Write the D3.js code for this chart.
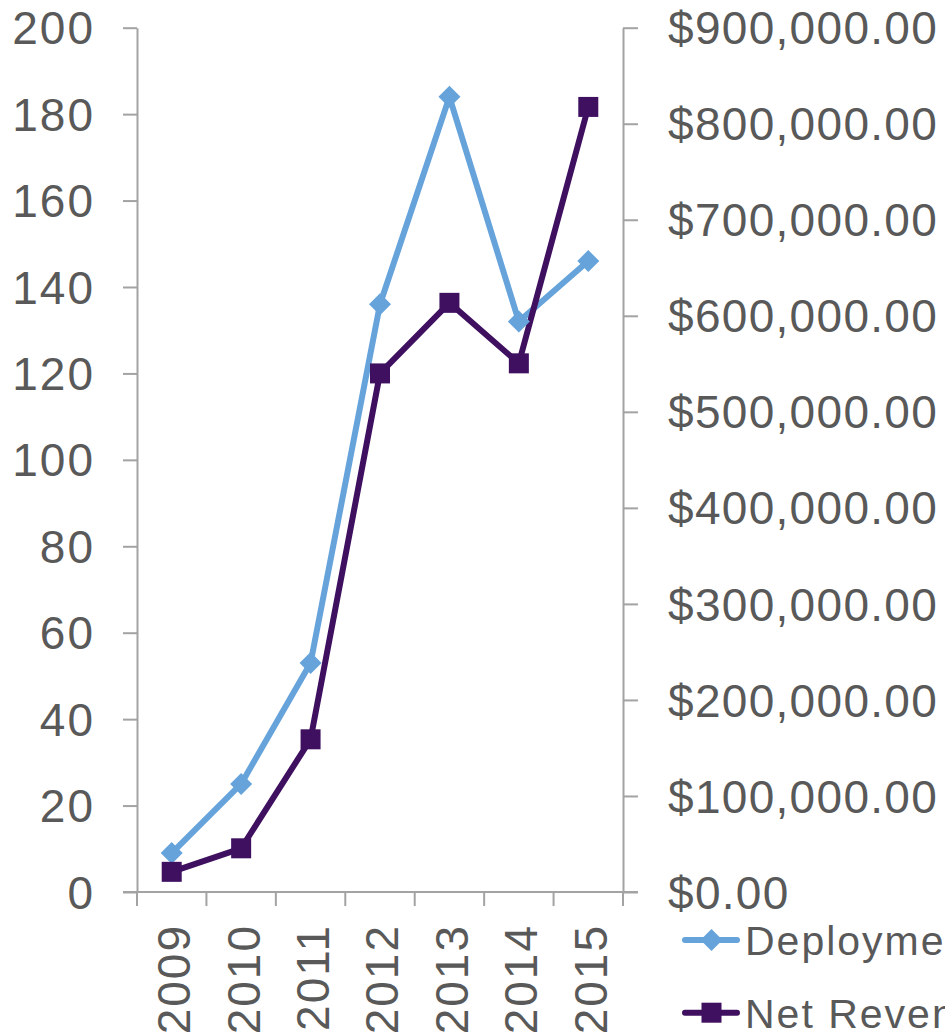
<!DOCTYPE html>
<html>
<head>
<meta charset="utf-8">
<script src="https://cdn.jsdelivr.net/npm/d3@7"></script>
<style>
  body { margin: 0; background: #fff; overflow: hidden; }
  svg text { font-family: "Liberation Sans", Arial, sans-serif; fill: #595959; }
</style>
</head>
<body>
<div id="chart"></div>
<script>
const years = ['2009', '2010', '2011', '2012', '2013', '2014', '2015'];
const deployments = [9, 25, 53, 136, 184, 132, 146];
const netRevenue = [21000, 45500, 159000, 540000, 613500, 550500, 817500];
const leftTicks = [0, 20, 40, 60, 80, 100, 120, 140, 160, 180, 200];
const rightTicks = [0, 100000, 200000, 300000, 400000, 500000, 600000, 700000, 800000, 900000];
const seriesNames = ['Deployments', 'Net Revenue'];

const width = 945, height = 1034;
const plotLeft = 137, plotRight = 623, plotTop = 27.7, plotBottom = 892;
const axisColor = '#a3a3a3';
const blue = '#66a3db', purple = '#3f1060';

const svg = d3.select('#chart').append('svg')
  .attr('width', width)
  .attr('height', height);

const x = d3.scaleBand().domain(years).range([plotLeft, plotRight]);
const yL = d3.scaleLinear().domain([0, 200]).range([plotBottom, plotTop]);
const yR = d3.scaleLinear().domain([0, 900000]).range([plotBottom, plotTop]);
const cx = d => x(d) + x.bandwidth() / 2;

const money = d3.format('$,.2f');

// left axis
const gl = svg.append('g')
  .attr('transform', `translate(${plotLeft},0)`)
  .call(d3.axisLeft(yL).tickValues(leftTicks).tickSize(14).tickPadding(28).tickSizeOuter(0));
// right axis
const gr = svg.append('g')
  .attr('transform', `translate(${plotRight},0)`)
  .call(d3.axisRight(yR).tickValues(rightTicks).tickFormat(money).tickSize(15).tickPadding(30).tickSizeOuter(0));
// bottom axis
const gb = svg.append('g')
  .attr('transform', `translate(0,${plotBottom})`)
  .call(d3.axisBottom(x).tickSize(0).tickPadding(0).tickSizeOuter(0));

[gl, gr].forEach(g => {
  g.select('.domain').attr('stroke', axisColor).attr('stroke-width', 2);
  g.selectAll('.tick line').attr('stroke', axisColor).attr('stroke-width', 2);
  g.selectAll('.tick text')
    .attr('fill', '#595959')
    .style('font-size', '46px')
    .attr('dy', '0.35em');
});
gl.selectAll('.tick text').style('letter-spacing', '2px');
gr.selectAll('.tick text').style('letter-spacing', '1.3px');

gb.select('.domain').remove();
svg.append('line')
  .attr('x1', plotLeft - 14).attr('x2', plotRight + 15)
  .attr('y1', plotBottom).attr('y2', plotBottom)
  .attr('stroke', axisColor).attr('stroke-width', 2);
svg.selectAll('.cat-tick')
  .data(years.concat(['end']))
  .enter().append('line')
  .attr('class', 'cat-tick')
  .attr('x1', (d, i) => i < years.length ? x(d) : plotRight)
  .attr('x2', (d, i) => i < years.length ? x(d) : plotRight)
  .attr('y1', plotBottom).attr('y2', plotBottom + 14)
  .attr('stroke', axisColor).attr('stroke-width', 2);

gb.selectAll('.tick line').remove();
gb.selectAll('.tick text')
  .attr('fill', '#595959')
  .style('font-size', '46px')
  .style('letter-spacing', '2px')
  .attr('text-anchor', 'end')
  .attr('transform', `translate(0, 32) rotate(-90)`)
  .attr('x', 0).attr('y', 0)
  .attr('dy', '0.4em');
gb.selectAll('.tick').attr('transform', d => `translate(${cx(d)},0)`);

// lines
const lineL = d3.line().x((d, i) => cx(years[i])).y(d => yL(d));
const lineR = d3.line().x((d, i) => cx(years[i])).y(d => yR(d));

svg.append('path')
  .datum(deployments)
  .attr('d', lineL)
  .attr('fill', 'none')
  .attr('stroke', blue)
  .attr('stroke-width', 6)
  .attr('stroke-linejoin', 'round');

svg.append('path')
  .datum(netRevenue)
  .attr('d', lineR)
  .attr('fill', 'none')
  .attr('stroke', purple)
  .attr('stroke-width', 6)
  .attr('stroke-linejoin', 'round');

const diamond = 'M0,-11L11,0L0,11L-11,0Z';

svg.selectAll('.dmark')
  .data(deployments)
  .enter().append('path')
  .attr('class', 'dmark')
  .attr('d', diamond)
  .attr('transform', (d, i) => `translate(${cx(years[i])},${yL(d)})`)
  .attr('fill', blue);

svg.selectAll('.smark')
  .data(netRevenue)
  .enter().append('rect')
  .attr('class', 'smark')
  .attr('x', (d, i) => cx(years[i]) - 10)
  .attr('y', d => yR(d) - 10)
  .attr('width', 20).attr('height', 20)
  .attr('fill', purple);

// legend
const legend = svg.append('g');
const legendY = [940, 1012.7];
const legendColor = [blue, purple];
seriesNames.forEach((name, i) => {
  const g = legend.append('g').attr('transform', `translate(0,${legendY[i]})`);
  g.append('line')
    .attr('x1', 685).attr('x2', 737)
    .attr('stroke', legendColor[i])
    .attr('stroke-width', 6)
    .attr('stroke-linecap', 'round');
  if (i === 0) {
    g.append('path').attr('d', diamond).attr('transform', 'translate(711.5,0)').attr('fill', legendColor[i]);
  } else {
    g.append('rect').attr('x', 701.5).attr('y', -10).attr('width', 20).attr('height', 20).attr('fill', legendColor[i]);
  }
  g.append('text')
    .attr('x', 745)
    .attr('y', 15)
    .style('font-size', '41px')
    .style('letter-spacing', '2px')
    .text(name);
});
</script>
</body>
</html>
